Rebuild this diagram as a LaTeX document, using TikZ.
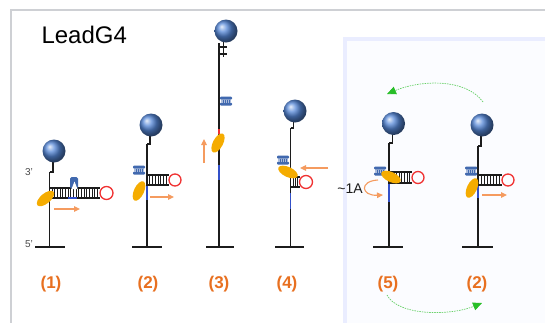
\documentclass[tikz,border=0pt]{standalone}
\usepackage{fontspec}
\setmainfont{Liberation Sans}
\usetikzlibrary{shapes.geometric,arrows.meta}

\definecolor{framegray}{RGB}{206,208,212}
\definecolor{panelrim}{RGB}{234,237,255}
\definecolor{panelfill}{RGB}{251,252,255}
\definecolor{stemc}{RGB}{28,28,28}
\definecolor{orangelbl}{RGB}{232,112,32}
\definecolor{orangearr}{RGB}{245,155,95}
\definecolor{goldc}{RGB}{245,172,0}
\definecolor{loopred}{RGB}{240,50,50}
\definecolor{clampblue}{RGB}{65,105,175}
\definecolor{segblue}{RGB}{50,80,200}
\definecolor{greenarr}{RGB}{40,190,40}
\definecolor{sphereblue}{RGB}{85,135,215}

\tikzset{
  strand/.style={draw=stemc, line width=1.8pt},
  basebar/.style={draw=stemc, line width=2.4pt},
  linker/.style={draw=stemc, line width=1.1pt},
  rung/.style={draw=stemc, line width=0.7pt},
  hairpin/.style={draw=loopred, line width=1.3pt},
  bead/.style={circle, minimum size=23pt, inner sep=0pt, shading=ball, ball color=sphereblue},
  enzyme/.style={ellipse, fill=goldc, minimum width=21pt, minimum height=10pt, inner sep=0pt},
  pusharrow/.style={draw=orangearr, line width=1.1pt, -{Triangle[length=6pt,width=5.5pt]}},
  recycle/.style={draw=greenarr!70, line width=0.7pt, dash pattern=on 1.5pt off 1pt,
    -{Triangle[length=9pt,width=8pt,color=greenarr,fill=greenarr]}},
  steplabel/.style={font=\bfseries\fontsize{17}{17}\selectfont, text=orangelbl},
  bluepart/.style={draw=segblue, line width=1.8pt},
  endlabel/.style={font=\fontsize{10}{10}\selectfont, text=stemc!80},
  clampglyph/.pic={
    \fill[clampblue, rounded corners=1pt] (-6,-4.5) rectangle (6,-1.5);
    \fill[clampblue, rounded corners=1pt] (-6,1.5) rectangle (6,4.5);
    \fill[clampblue!45] (-5,-1.5) rectangle (5,1.5);
    \foreach \i in {-3,-1,1,3} \draw[clampblue, line width=0.6pt] (\i,-1.5) -- (\i,1.5);
  }
}

% duplex ladder: x1, x2, y top, y bottom, rungs
\newcommand\ladderduplex[5]{%
  \draw[strand] (#1,#3) -- (#2,#3);
  \draw[strand] (#1,#4) -- (#2,#4);
  \foreach \k in {1,...,#5}
    \draw[rung] ({#1+(#2-#1)*\k/(#5+1)},#3) -- ({#1+(#2-#1)*\k/(#5+1)},#4);
}

\begin{document}
\begin{tikzpicture}[x=1pt,y=-1pt]
\useasboundingbox (0,0) rectangle (545,322);
\clip (0,0) rectangle (545,322);
\fill[white] (0,0) rectangle (545,322);

% outer frame and recycling panel
\draw[framegray, line width=2.5pt] (11,340) -- (11,10) -- (560,10);
\draw[panelrim, line width=3.5pt, fill=panelfill] (345,39) rectangle (560,340);

\node[anchor=base west, font=\fontsize{24}{24}\selectfont] (title) at (38,43) {LeadG4};

% ---------- (1) ----------
\draw[basebar] (35,247) -- (65,247);
\draw[strand] (49.5,247) -- (49.5,172);
\draw[linker] (49.5,172) -- (53,172) -- (53,160);
\ladderduplex{49.5}{100}{188}{198}{18}
\fill[clampblue, rounded corners=1.5pt] (70,177) rectangle (78,188.5);
\fill[white] (71.5,189) -- (74.5,181.5) -- (77.5,189) -- cycle;
\draw[bluepart] (68,198) -- (77,198);
\draw[hairpin] (106.5,193) circle (6.5);
\node[bead] (s1) at (54,151) {};
\node[enzyme, rotate=40] (e1) at (45.5,198.5) {};
\draw[pusharrow] (54,209) -- (80,209);
\node[endlabel] (p3) at (29,172) {3'};
\node[endlabel] (p5) at (29,244) {5'};
\node[steplabel] (l1) at (51,284) {(1)};

% ---------- (2) ----------
\draw[basebar] (132,247) -- (162,247);
\draw[strand] (147,247) -- (147,144);
\draw[linker] (147,144) -- (150,144) -- (150,135);
\ladderduplex{147}{169}{175}{185}{7}
\draw[hairpin] (175,180) circle (6);
\draw[bluepart] (147,186) -- (147,200);
\pic at (139,170) {clampglyph};
\node[bead] (s2) at (151,125) {};
\node[enzyme, rotate=65] (e2) at (139,191) {};
\draw[pusharrow] (150,197) -- (174,197);
\node[steplabel] (l2) at (148,284) {(2)};

% ---------- (3) ----------
\draw[basebar] (206,247) -- (234,247);
\draw[strand] (219,247) -- (219,43);
\draw[linker] (223.5,42) -- (223.5,57);
\draw[linker] (219,47) -- (226.5,47);
\draw[linker] (219,54) -- (226.5,54);
\pic at (226,101) {clampglyph};
\draw[draw=loopred, line width=1.8pt] (219,129) -- (219,134);
\draw[bluepart] (219,165) -- (219,180);
\node[bead] (s3) at (226,31) {};
\node[enzyme, rotate=62] (e3) at (218,143) {};
\draw[pusharrow] (204,163) -- (204,139);
\node[steplabel] (l3) at (219,284) {(3)};

% ---------- (4) ----------
\draw[basebar] (275,247) -- (304,247);
\draw[strand] (290.5,247) -- (290.5,128);
\draw[linker] (290.5,128) -- (293.5,128) -- (293.5,120);
\ladderduplex{290.5}{300}{177}{187}{3}
\draw[hairpin] (306,182) circle (6.5);
\draw[bluepart] (290.5,193) -- (290.5,209);
\pic at (283,160) {clampglyph};
\node[bead] (s4) at (295,111) {};
\node[enzyme, rotate=-25] (e4) at (288,172) {};
\draw[pusharrow] (328,168) -- (300,168);
\node[steplabel] (l4) at (287,284) {(4)};

% ---------- (5) ----------
\draw[basebar] (373,247) -- (403,247);
\draw[strand] (389,247) -- (389,143);
\draw[linker] (389,143) -- (392.5,143) -- (392.5,134);
\ladderduplex{389}{412}{172}{183}{8}
\draw[hairpin] (418,177.5) circle (6);
\draw[bluepart] (389,184) -- (389,202);
\pic at (380,171) {clampglyph};
\node[bead] (s5) at (393.5,123.5) {};
\node[enzyme, rotate=-25] (e5) at (391,177) {};
\node[font=\fontsize{14}{14}\selectfont, text=stemc] (shift) at (350,189) {\textasciitilde 1A};
\draw[pusharrow] (378,180) .. controls (359,181) and (361,196) .. (383,195);
\node[steplabel] (l5) at (388,284) {(5)};

% ---------- (2) again ----------
\draw[basebar] (462,247) -- (493,247);
\draw[strand] (478,247) -- (478,146);
\draw[linker] (478,146) -- (481,146) -- (481,136);
\ladderduplex{478}{502}{175}{185}{7}
\draw[hairpin] (508,180) circle (6);
\draw[bluepart] (478,186) -- (478,198);
\pic at (471,171) {clampglyph};
\node[bead] (s6) at (482,125) {};
\node[enzyme, rotate=65] (e6) at (472,188) {};
\draw[pusharrow] (482,195) -- (507,195);
\node[steplabel] (l6) at (477,284) {(2)};

% recycling arrows
\coordinate (topstart) at (483,102);
\coordinate (topend) at (387,94);
\coordinate (botstart) at (387,295);
\coordinate (botend) at (482,303);
\draw[recycle] (topstart) .. controls (466,78) and (420,80) .. (topend);
\draw[recycle] (botstart) .. controls (398,316) and (450,316) .. (botend);
\end{tikzpicture}
\end{document}
